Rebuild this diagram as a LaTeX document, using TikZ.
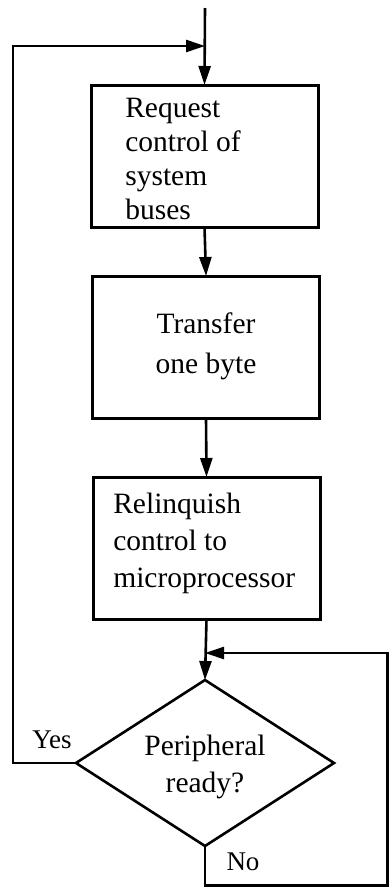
\documentclass[tikz,border=0pt]{standalone}
\usepackage{fontspec}
\setmainfont{Liberation Serif}
\usetikzlibrary{shapes.geometric,arrows.meta}
\begin{document}
\begin{tikzpicture}[x=1pt,y=-1pt,
  line width=2.6pt,
  arr/.style={-{Triangle[length=19pt,width=12pt]}},
  procbox/.style={draw,rectangle,line width=3pt,inner sep=0pt,outer sep=0pt,minimum width=227pt,minimum height=142pt},
  decbox/.style={draw,diamond,line width=2.6pt,inner sep=0pt,outer sep=0pt,minimum width=258pt,minimum height=166pt,aspect=1.55},
  txt/.style={font=\fontsize{29.5}{37}\selectfont,inner sep=0pt,align=left},
  lbl/.style={font=\fontsize{27}{32}\selectfont,inner sep=0pt}]
\useasboundingbox (0,0) rectangle (389,887);
\coordinate (start) at (205,8);
\coordinate (merge) at (205,46);
\node[procbox] (b1) at (204.5,156) {};
\node[procbox] (b2) at (206,347) {};
\node[procbox] (b3) at (206.5,548) {};
\node[decbox] (d) at (205,763) {};
\node[txt,anchor=west,font=\fontsize{29.5}{34}\selectfont] (t1) at (124,159) {Request\\control of\\system\\buses};
\node[txt,align=center,font=\fontsize{29.5}{40}\selectfont] (t2) at (206,346) {Transfer\\one byte};
\node[txt,anchor=west] (t3) at (112,543) {Relinquish\\control to\\microprocessor};
\node[txt,align=center] (t4) at (205,767) {Peripheral\\ready?};
\node[lbl] (yes) at (52,740) {Yes};
\node[lbl] (no) at (243,862) {No};
\coordinate (merge2) at (205,653);
\coordinate (rtop) at (387.5,653);
\coordinate (rbot) at (387.5,885.5);
\coordinate (bot) at (205,885.5);
\coordinate (ltop) at (13,46);
\coordinate (lbot) at (13,763);
% main flow
\draw[arr] (start) -- (b1.north);
\draw[arr] (b1.south) -- (b2.north);
\draw[arr] (b2.south) -- (b3.north);
\draw[arr] (b3.south) -- (d.north);
% yes loop
\draw[arr] (d.west) -- (lbot) -- (ltop) -- (merge);
% no loop
\draw[arr] (d.south) -- (bot) -- (rbot) -- (rtop) -- (merge2);
\end{tikzpicture}
\end{document}
